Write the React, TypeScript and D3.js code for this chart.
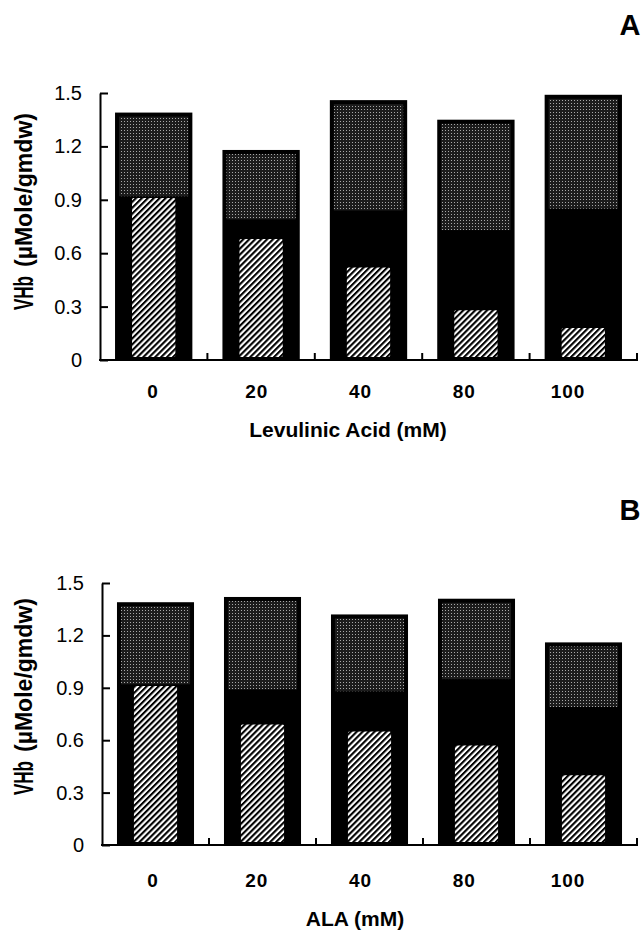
import React, { useEffect, useRef } from 'react';
import * as d3 from 'd3';

const categories = ['0', '20', '40', '80', '100'];
const yTicks = [0, 0.3, 0.6, 0.9, 1.2, 1.5];
const yTickLabels = ['0', '0.3', '0.6', '0.9', '1.2', '1.5'];

// Panel A: levulinic acid
const levTotal = [1.39, 1.18, 1.46, 1.35, 1.49];
const levLower = [0.92, 0.79, 0.84, 0.73, 0.85];
const levHatched = [0.91, 0.68, 0.52, 0.28, 0.18];

// Panel B: ALA
const alaTotal = [1.39, 1.42, 1.32, 1.41, 1.16];
const alaLower = [0.92, 0.89, 0.88, 0.95, 0.79];
const alaHatched = [0.91, 0.69, 0.65, 0.57, 0.4];

const font = "'Liberation Sans', Arial, Helvetica, sans-serif";

const panels = [
  {
    letter: 'A',
    title: 'Levulinic Acid (mM)',
    total: levTotal,
    lower: levLower,
    hatched: levHatched,
    x0: 100,
    x1: 637,
    yTop: 93,
    yBottom: 360,
    letterY: 35,
    tickLabelY: 398,
    titleY: 437,
    titleX: 348,
  },
  {
    letter: 'B',
    title: 'ALA (mM)',
    total: alaTotal,
    lower: alaLower,
    hatched: alaHatched,
    x0: 102,
    x1: 637,
    yTop: 583,
    yBottom: 845,
    letterY: 520,
    tickLabelY: 887,
    titleY: 926,
    titleX: 355,
  },
];

const App = () => {
  const ref = useRef<SVGSVGElement | null>(null);

  useEffect(() => {
    document.body.style.margin = '0';
    const svg = d3.select(ref.current);
    svg.selectAll('*').remove();

    const defs = svg.append('defs');
    const stipple = defs
      .append('pattern')
      .attr('id', 'stipple')
      .attr('patternUnits', 'userSpaceOnUse')
      .attr('width', 3)
      .attr('height', 3);
    stipple.append('rect').attr('width', 3).attr('height', 3).attr('fill', '#1c1c1c');
    stipple.append('rect').attr('x', 1).attr('y', 1).attr('width', 1).attr('height', 1).attr('fill', '#a8a8a8');

    const hatch = defs
      .append('pattern')
      .attr('id', 'hatch')
      .attr('patternUnits', 'userSpaceOnUse')
      .attr('width', 4.2)
      .attr('height', 4.2)
      .attr('patternTransform', 'rotate(45)');
    hatch.append('rect').attr('width', 4.2).attr('height', 4.2).attr('fill', '#fff');
    hatch.append('rect').attr('width', 2.1).attr('height', 4.2).attr('fill', '#000');

    panels.forEach((p) => {
      const g = svg.append('g');

      const x = d3
        .scaleBand()
        .domain(categories)
        .range([p.x0, p.x1])
        .paddingInner(0.28)
        .paddingOuter(0.14);

      const y = d3.scaleLinear().domain([0, 1.5]).range([p.yBottom, p.yTop]);

      const labelX = d3.scalePoint().domain(categories).range([153, 568]);

      const bw = x.bandwidth();
      const inner = bw * 0.56;

      // outer black bar (full height)
      g.selectAll('.outer')
        .data(categories)
        .enter()
        .append('rect')
        .attr('x', (d) => x(d)!)
        .attr('y', (d, i) => y(p.total[i]))
        .attr('width', bw)
        .attr('height', (d, i) => y(0) - y(p.total[i]))
        .attr('fill', '#000');

      // stippled upper segment
      g.selectAll('.upper')
        .data(categories)
        .enter()
        .append('rect')
        .attr('x', (d) => x(d)! + 4)
        .attr('y', (d, i) => y(p.total[i]) + 4)
        .attr('width', bw - 8)
        .attr('height', (d, i) => y(p.lower[i]) - y(p.total[i]) - 4)
        .attr('fill', 'url(#stipple)');

      // hatched inner bar
      g.selectAll('.hatched')
        .data(categories)
        .enter()
        .append('rect')
        .attr('x', (d) => x(d)! + (bw - inner) / 2)
        .attr('y', (d, i) => y(p.hatched[i]))
        .attr('width', inner)
        .attr('height', (d, i) => y(0) - y(p.hatched[i]) - 3)
        .attr('rx', 1.5)
        .attr('fill', 'url(#hatch)');

      // y axis
      const yAxis = d3
        .axisLeft(y)
        .tickValues(yTicks)
        .tickFormat((d, i) => yTickLabels[i])
        .tickSizeInner(-8)
        .tickSizeOuter(0)
        .tickPadding(18);

      const ya = g.append('g').attr('transform', `translate(${p.x0},0)`).call(yAxis);
      ya.select('.domain').attr('stroke', '#000').attr('stroke-width', 2);
      ya.selectAll('.tick line').attr('stroke', '#000').attr('stroke-width', 2);
      ya.selectAll('.tick text')
        .attr('fill', '#000')
        .style('font-family', font)
        .style('font-size', '20px');

      // x axis baseline + boundary ticks pointing up
      g.append('line')
        .attr('x1', p.x0 - 1)
        .attr('x2', p.x1 + 1)
        .attr('y1', y(0))
        .attr('y2', y(0))
        .attr('stroke', '#000')
        .attr('stroke-width', 2);

      const step = x.step();
      g.selectAll('.xtick')
        .data(categories)
        .enter()
        .append('line')
        .attr('x1', (d) => x(d)! + bw + (step - bw) / 2)
        .attr('x2', (d) => x(d)! + bw + (step - bw) / 2)
        .attr('y1', y(0))
        .attr('y2', y(0) - 7)
        .attr('stroke', '#000')
        .attr('stroke-width', 2);

      g.selectAll('.xlabel')
        .data(categories)
        .enter()
        .append('text')
        .attr('x', (d) => labelX(d)!)
        .attr('y', p.tickLabelY)
        .attr('text-anchor', 'middle')
        .style('font-family', font)
        .style('font-size', '19px')
        .style('font-weight', 'bold')
        .style('letter-spacing', '1px')
        .text((d) => d);

      g.append('text')
        .attr('x', p.titleX)
        .attr('y', p.titleY)
        .attr('text-anchor', 'middle')
        .style('font-family', font)
        .style('font-size', '21px')
        .style('font-weight', 'bold')
        .text(p.title);

      g.append('text')
        .attr('x', 630)
        .attr('y', p.letterY)
        .attr('text-anchor', 'middle')
        .style('font-family', font)
        .style('font-size', '29px')
        .style('font-weight', 'bold')
        .text(p.letter);

      // y label (two parts, condensed)
      g.append('text')
        .attr('transform', `translate(33,${p.yBottom - 67}) rotate(-90)`)
        .attr('text-anchor', 'middle')
        .attr('textLength', 34)
        .attr('lengthAdjust', 'spacingAndGlyphs')
        .style('font-family', font)
        .style('font-size', '27px')
        .style('font-weight', 'bold')
        .text('VHb');

      g.append('text')
        .attr('transform', `translate(32,${p.yBottom - 170}) rotate(-90)`)
        .attr('text-anchor', 'middle')
        .attr('textLength', 154)
        .attr('lengthAdjust', 'spacingAndGlyphs')
        .style('font-family', font)
        .style('font-size', '24px')
        .style('font-weight', 'bold')
        .text('(\u00b5Mole/gmdw)');
    });

    return () => {
      d3.select(ref.current).selectAll('*').remove();
    };
  }, []);

  return (
    <svg ref={ref} width={642} height={933} style={{ display: 'block', background: '#fff' }} />
  );
};

export default App;
